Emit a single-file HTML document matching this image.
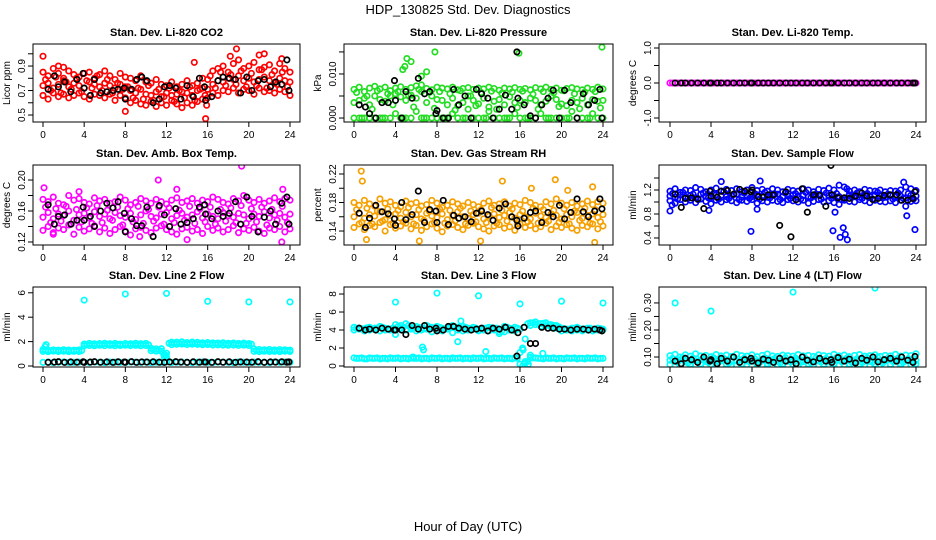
<!DOCTYPE html>
<html><head><meta charset="utf-8"><style>
html,body{margin:0;padding:0;background:#fff;}
svg{display:block;font-family:"Liberation Sans",sans-serif;}
</style></head><body>
<svg id="chart" width="936" height="540" viewBox="0 0 936 540">
<text x="468" y="14" font-size="13" text-anchor="middle">HDP_130825  Std. Dev. Diagnostics</text>
<text x="468" y="531" font-size="13" text-anchor="middle">Hour of Day (UTC)</text>
</svg>
<script>
// shared time categories (hours)
const T = [0,0.5,1,1.5,2,2.5,3,3.5,4,4.5,5,5.5,6,6.5,7,7.5,8,8.5,9,9.5,10,10.5,11,11.5,12,12.5,13,13.5,14,14.5,15,15.5,16,16.5,17,17.5,18,18.5,19,19.5,20,20.5,21,21.5,22,22.5,23,23.5,24];
const T2 = [0.25,0.75,1.25,1.75,2.25,2.75,3.25,3.75,4.25,4.75,5.25,5.75,6.25,6.75,7.25,7.75,8.25,8.75,9.25,9.75,10.25,10.75,11.25,11.75,12.25,12.75,13.25,13.75,14.25,14.75,15.25,15.75,16.25,16.75,17.25,17.75,18.25,18.75,19.25,19.75,20.25,20.75,21.25,21.75,22.25,22.75,23.25,23.75];
const BT = [0.5,1.1,1.5,2.1,2.7,3.3,3.9,4.0,4.6,5.0,5.6,6.2,6.8,7.3,7.9,8.0,8.6,9.1,9.6,10.1,10.7,11.3,11.8,12.3,12.9,13.4,14.0,14.6,15.2,15.7,15.8,16.4,17.0,17.5,18.1,18.7,19.2,19.8,20.3,20.9,21.5,22.1,22.6,23.2,23.7,23.9];

// Panel 1: CO2
const co2A = [.85,.82,.88,.84,.80,.86,.83,.81,.84,.85,.80,.83,.86,.82,.79,.84,.81,.80,.78,.82,.77,.76,.79,.75,.74,.77,.73,.75,.78,.74,.76,.80,.79,.86,.88,.90,.85,.92,.95,.88,.90,.93,.87,.89,.91,.86,.92,.88,.85];
const co2B = [.74,.76,.72,.75,.78,.73,.76,.74,.72,.77,.75,.73,.76,.74,.72,.75,.73,.70,.68,.71,.67,.66,.69,.65,.68,.66,.67,.69,.68,.66,.70,.72,.71,.75,.78,.77,.80,.79,.82,.78,.80,.77,.79,.81,.78,.76,.80,.78,.77];
const co2C = [.66,.63,.68,.65,.67,.64,.66,.68,.65,.63,.67,.66,.64,.67,.62,.66,.64,.60,.62,.59,.58,.61,.57,.60,.58,.62,.59,.56,.60,.58,.61,.63,.64,.68,.66,.70,.69,.72,.68,.71,.70,.67,.72,.69,.70,.68,.71,.69,.66];
const co2D = [.79,.70,.81,.68,.77,.71,.80,.69,.78,.72,.82,.70,.79,.68,.76,.71,.73,.64,.72,.63,.74,.62,.71,.65,.72,.61,.70,.64,.73,.62,.71,.66,.82,.72,.85,.74,.83,.75,.86,.73,.84,.74,.87,.72,.83,.75,.85,.73];
const co2OutT = [0,1.5,2,8,15.8,15.9,18.8,18.2,21.5,23.2,14.7,21];
const co2OutV = [.98,.90,.89,.53,.47,.58,1.04,.98,1.0,.96,.93,.99];
const co2Blk = [.71,.82,.73,.77,.69,.79,.84,.72,.66,.79,.68,.69,.70,.71,.72,.63,.71,.79,.81,.78,.60,.63,.73,.74,.72,.63,.74,.65,.80,.73,.62,.65,.78,.81,.80,.79,.68,.81,.70,.78,.79,.73,.77,.75,.95,.70];

// Panel 2: Pressure
const prA = [.0065,.007,.006,.0068,.0072,.0066,.007,.0062,.0068,.0071,.0065,.0069,.0073,.0075,.0067,.0064,.0070,.0068,.0066,.0070,.0064,.0067,.0069,.0065,.0068,.0066,.0070,.0067,.0063,.0068,.0066,.0069,.0065,.0067,.0064,.0069,.0066,.0070,.0065,.0068,.0063,.0067,.0069,.0066,.0064,.0068,.0065,.0070,.0066];
const prB = [.0035,.004,.0045,.003,.005,.0042,.0038,.005,.0055,.0048,.004,.0052,.0045,.006,.0035,.005,.0042,.004,.003,.0045,.0028,.0035,.005,.004,.0032,.0045,.0025,.0038,.0042,.003,.0048,.0035,.004,.0035,.0045,.004,.003,.0038,.005,.0042,.0032,.0028,.004,.0035,.0045,.003,.0042,.0038,.004];
const prC = [0,0,0,0,0,0,0,0,.001,0,0,0,.0015,0,0,0,0,0,0,.001,0,0,.002,0,0,0,.0015,0,0,0,0,.001,0,0,0,0,.001,0,0,0,0,0,.0015,0,0,0,.001,0,0];
const prD = [.0058,0,.0050,.0020,.0062,0,.0055,.0030,.0060,0,.0052,.0025,.0065,0,.0058,.0022,.0060,0,.0055,.0018,.0062,0,.0050,.0028,.0058,0,.0061,.0020,.0056,0,.0059,.0024,.0061,0,.0054,.0020,.0060,0,.0057,.0026,.0062,0,.0055,.0021,.0059,0,.0060,.0023];
const prOutT = [4.9,5.1,5.5,7.8,7.0,6.5,4.7,15.9,23.9];
const prOutV = [.0117,.0135,.0128,.0150,.0105,.0095,.011,.0147,.0161];
const prBlk = [.003,.0025,.001,0,.0035,.0035,.0085,.004,0,.006,.0045,.009,.0055,.006,.001,.0017,0,0,.0065,.003,.005,0,.0065,.0055,.0045,0,.002,.0052,.002,.0150,.0045,.003,.0005,0,.003,.0045,.0063,0,.0063,.0035,0,.0055,.003,.004,.0065,0];

// Panel 3: Temp
const tmpA = [0,0,0,0,0,0,0,0,0,0,0,0,0,0,0,0,0,0,0,0,0,0,0,0,0,0,0,0,0,0,0,0,0,0,0,0,0,0,0,0,0,0,0,0,0,0,0,0,0];
const tmpD = [0,0,0,0,0,0,0,0,0,0,0,0,0,0,0,0,0,0,0,0,0,0,0,0,0,0,0,0,0,0,0,0,0,0,0,0,0,0,0,0,0,0,0,0,0,0,0,0];
const tmpBlk = [0,0,0,0,0,0,0,0,0,0,0,0,0,0,0,0,0,0,0,0,0,0,0,0,0,0,0,0,0,0,0,0,0,0,0,0,0,0,0,0,0,0,0,0,0,0];

// Panel 4: Amb box temp
const ambA = [.175,.172,.178,.170,.168,.180,.174,.176,.171,.169,.177,.173,.175,.170,.172,.178,.174,.168,.171,.176,.173,.170,.175,.172,.169,.174,.177,.171,.173,.176,.170,.174,.172,.178,.175,.171,.169,.176,.173,.180,.174,.171,.175,.170,.173,.177,.172,.176,.174];
const ambB = [.152,.158,.150,.156,.154,.160,.148,.155,.157,.151,.159,.153,.156,.150,.158,.154,.152,.157,.149,.155,.160,.153,.151,.156,.158,.150,.154,.157,.152,.155,.159,.151,.156,.153,.150,.158,.154,.152,.157,.155,.150,.156,.153,.159,.151,.155,.157,.152,.156];
const ambC = [.135,.140,.132,.138,.136,.142,.130,.139,.134,.137,.141,.133,.138,.131,.136,.140,.134,.129,.137,.139,.135,.132,.138,.141,.136,.133,.130,.137,.139,.134,.136,.131,.140,.135,.138,.133,.136,.141,.132,.137,.135,.139,.134,.131,.138,.136,.140,.133,.137];
const ambD = [.165,.145,.163,.147,.166,.143,.162,.146,.164,.144,.167,.145,.161,.148,.165,.142,.163,.146,.166,.144,.162,.147,.165,.143,.164,.145,.161,.148,.166,.144,.163,.146,.165,.143,.162,.147,.164,.145,.167,.144,.163,.146,.165,.142,.162,.148,.166,.145];
const ambOutT = [0.1,1,3.5,11.2,13,19.3,23.3,23.2,14,9.4];
const ambOutV = [.19,.13,.185,.20,.188,.218,.188,.12,.123,.127];
const ambBlk = [.168,.143,.153,.155,.143,.148,.165,.148,.153,.140,.160,.170,.164,.172,.157,.133,.150,.141,.141,.165,.127,.167,.155,.140,.163,.143,.145,.150,.165,.168,.156,.150,.160,.153,.157,.172,.143,.178,.153,.133,.152,.160,.143,.170,.178,.143];

// Panel 5: Gas stream RH
const rhA = [.180,.176,.183,.178,.175,.185,.179,.181,.176,.174,.182,.178,.180,.175,.177,.183,.179,.173,.176,.181,.178,.175,.180,.177,.174,.179,.182,.176,.178,.181,.175,.179,.177,.183,.180,.176,.174,.181,.178,.185,.179,.176,.180,.175,.178,.182,.177,.181,.179];
const rhB = [.160,.165,.158,.163,.161,.167,.156,.162,.164,.158,.166,.160,.163,.157,.165,.161,.159,.164,.156,.162,.167,.160,.158,.163,.165,.157,.161,.164,.159,.162,.166,.158,.163,.160,.157,.165,.161,.159,.164,.162,.157,.163,.160,.166,.158,.162,.164,.159,.163];
const rhC = [.145,.150,.142,.148,.146,.152,.140,.149,.144,.147,.151,.143,.148,.141,.146,.150,.144,.139,.147,.149,.145,.142,.148,.151,.146,.143,.140,.147,.149,.144,.146,.141,.150,.145,.148,.143,.146,.151,.142,.147,.145,.149,.144,.141,.148,.146,.150,.143,.147];
const rhD = [.170,.152,.172,.150,.168,.154,.171,.151,.169,.153,.173,.150,.170,.155,.168,.152,.171,.151,.169,.154,.172,.150,.168,.153,.170,.152,.173,.151,.169,.154,.171,.150,.168,.153,.172,.151,.170,.154,.169,.152,.171,.150,.168,.155,.172,.151,.170,.153];
const rhOutT = [0.7,0.8,1.2,6.3,12.2,14.3,17.1,19.4,20.6,23.2,23];
const rhOutV = [.224,.21,.128,.126,.126,.21,.20,.212,.197,.124,.202];
const rhBlk = [.165,.145,.158,.176,.167,.164,.157,.148,.180,.156,.163,.196,.152,.170,.168,.152,.183,.149,.162,.158,.160,.153,.165,.168,.163,.155,.172,.178,.160,.155,.147,.158,.166,.168,.152,.166,.160,.176,.157,.166,.185,.167,.160,.168,.185,.171];

// Panel 6: Sample flow
const sfA = [1.18,1.22,1.16,1.20,1.19,1.24,1.21,1.17,1.20,1.23,1.18,1.21,1.19,1.22,1.17,1.20,1.24,1.19,1.21,1.18,1.22,1.20,1.17,1.21,1.19,1.18,1.22,1.20,1.17,1.21,1.19,1.23,1.20,1.28,1.25,1.18,1.20,1.17,1.21,1.19,1.18,1.20,1.17,1.19,1.18,1.20,1.25,1.22,1.19];
const sfB = [1.10,1.08,1.12,1.09,1.11,1.07,1.13,1.10,1.08,1.12,1.11,1.09,1.10,1.13,1.08,1.11,1.09,1.12,1.10,1.08,1.11,1.13,1.09,1.10,1.12,1.08,1.11,1.09,1.10,1.12,1.08,1.11,1.10,1.09,1.06,1.12,1.10,1.08,1.11,1.09,1.12,1.10,1.08,1.11,1.09,1.10,1.07,1.11,1.10];
const sfC = [1.02,0.98,1.04,1.00,1.03,0.99,1.05,1.01,0.97,1.03,1.00,1.04,1.02,0.99,1.03,1.01,1.04,0.98,1.02,1.00,1.03,1.01,0.99,1.04,1.02,1.00,1.03,0.98,1.01,1.04,1.00,1.02,0.99,0.96,1.03,1.01,1.00,1.04,1.02,0.99,1.03,1.01,1.00,1.02,0.99,1.03,0.93,1.01,1.02];
const sfD = [1.14,1.05,1.16,1.06,1.13,1.04,1.15,1.07,1.14,1.05,1.17,1.06,1.13,1.04,1.15,1.06,1.14,1.05,1.16,1.07,1.13,1.04,1.15,1.06,1.14,1.05,1.16,1.07,1.13,1.05,1.15,1.06,1.14,1.04,1.22,1.08,1.15,1.06,1.14,1.05,1.16,1.07,1.13,1.05,1.15,1.06,1.14,1.05];
const sfOutT = [0,0.2,3.8,7.9,8.5,15.9,16.1,16.6,16.9,17.1,17.3,23.1,23.9,5.0,8.8,22.8];
const sfOutV = [0.85,0.95,0.86,0.51,0.88,0.52,0.83,0.41,0.57,0.46,0.37,0.77,0.54,1.34,1.35,1.33];
const sfBlk = [1.13,0.91,1.06,1.07,1.05,0.89,1.18,1.10,1.08,1.18,1.19,1.13,1.21,1.18,1.17,1.20,1.09,1.08,1.12,1.12,0.61,1.17,0.42,1.04,1.22,0.83,1.12,1.11,0.93,1.61,1.12,1.07,1.07,1.06,1.10,1.15,1.10,1.04,1.06,1.11,1.12,1.12,1.03,1.03,1.06,1.17];

// Panel 7: Line 2 flow
const l2A = [1.35,1.30,1.32,1.30,1.33,1.31,1.30,1.32,1.80,1.85,1.82,1.84,1.86,1.83,1.85,1.80,1.84,1.82,1.86,1.83,1.85,1.45,1.40,1.42,1.05,1.95,1.95,1.98,1.92,1.96,1.94,1.90,1.92,1.89,1.88,1.90,1.86,1.88,1.85,1.87,1.84,1.40,1.35,1.33,1.35,1.32,1.34,1.33,1.30];
const l2B = [1.20,1.18,1.22,1.19,1.21,1.18,1.20,1.19,1.65,1.68,1.66,1.70,1.67,1.69,1.66,1.68,1.70,1.67,1.69,1.66,1.68,1.25,1.22,1.20,0.75,1.75,1.78,1.80,1.76,1.79,1.77,1.74,1.76,1.72,1.73,1.71,1.70,1.72,1.69,1.71,1.68,1.20,1.18,1.21,1.19,1.20,1.18,1.21,1.19];
const l2C = [.30,.32,.28,.31,.33,.29,.30,.32,.31,.29,.33,.30,.28,.32,.31,.30,.29,.33,.31,.30,.32,.28,.31,.30,.33,.29,.31,.32,.30,.28,.31,.33,.30,.29,.32,.31,.30,.28,.33,.31,.29,.32,.30,.31,.28,.33,.30,.32,.31];
const l2D = [1.27,1.25,1.28,1.26,1.27,1.25,1.28,1.26,1.75,1.77,1.74,1.76,1.78,1.75,1.77,1.74,1.76,1.78,1.75,1.77,1.74,1.33,1.30,0.90,1.86,1.87,1.85,1.86,1.84,1.85,1.83,1.84,1.82,1.83,1.81,1.80,1.82,1.79,1.80,1.78,1.79,1.27,1.26,1.28,1.25,1.27,1.26,1.28];
const l2OutT = [4,8,12,16,20,24,0.2,0.3,11.8,11.9];
const l2OutV = [5.4,5.9,5.95,5.3,5.25,5.25,1.6,1.75,0.7,0.9];
const l2Blk = [.30,.32,.35,.30,.33,.31,.34,.30,.32,.35,.31,.33,.30,.34,.32,.31,.35,.30,.33,.32,.34,.31,.30,.33,.35,.32,.30,.34,.31,.33,.32,.30,.35,.31,.34,.30,.33,.32,.31,.35,.30,.33,.32,.34,.31,.33];

// Panel 8: Line 3 flow
const l3A = [4.3,4.2,4.1,4.3,4.2,4.4,4.2,4.1,4.6,4.5,4.7,4.3,4.4,4.2,4.5,4.3,4.4,4.2,4.3,4.5,4.3,4.4,4.2,4.3,4.1,4.2,4.3,4.2,3.8,4.4,4.2,4.3,4.1,3.0,4.8,4.9,4.7,4.8,4.6,4.5,4.2,4.1,4.2,4.3,4.1,4.2,4.1,4.2,4.1];
const l3B = [4.0,4.1,3.9,4.0,4.1,3.9,4.0,4.0,3.5,4.2,4.0,4.1,3.9,4.0,4.1,3.8,4.0,3.9,4.1,3.7,4.0,3.9,4.0,4.1,3.9,4.0,3.9,4.0,3.6,3.8,4.0,3.9,1.5,0.5,4.5,4.6,4.4,4.5,4.3,4.2,3.9,4.0,3.9,4.0,3.9,4.0,3.9,4.0,4.0];
const l3C = [0.9,0.85,0.8,0.9,0.85,0.8,0.85,0.9,0.85,0.8,0.85,0.9,0.85,0.8,0.85,0.9,0.85,0.8,0.85,0.9,0.85,0.8,0.85,0.9,0.85,0.8,0.85,0.9,0.85,0.8,0.85,0.9,0.2,0.3,0.95,0.9,0.85,0.9,0.85,0.8,0.85,0.9,0.85,0.8,0.85,0.9,0.85,0.8,0.85];
const l3D = [4.2,4.15,4.25,4.1,4.2,4.3,4.15,4.2,4.4,4.3,4.5,4.2,4.3,4.15,4.35,4.2,4.3,4.15,4.25,4.35,4.2,4.3,4.15,4.2,4.1,4.2,4.25,4.2,3.9,4.3,4.15,4.2,2.0,4.7,4.8,4.7,4.75,4.6,4.5,4.35,4.15,4.1,4.2,4.15,4.1,4.2,4.1,4.15];
const l3E = [0.85,0.9,0.8,0.85,0.9,0.85,0.8,0.85,0.9,0.85,0.8,0.85,0.9,0.85,0.8,0.85,0.9,0.85,0.8,0.85,0.9,0.85,0.8,0.85,0.9,0.85,0.8,0.85,0.9,0.85,0.8,0.85,0.0,0.5,0.9,0.85,0.8,0.85,0.9,0.85,0.8,0.85,0.9,0.85,0.8,0.85,0.9,0.85];
const l3OutT = [4,8,12,16,20,24,6.6,6.7,10,10.3,12.7,16.3,16.8,17,18.2,5.7];
const l3OutV = [7.1,8.1,7.8,6.9,7.2,7.0,2.1,1.8,2.7,5.0,1.6,1.8,0.2,1.2,1.4,1.0];
const l3Blk = [4.2,4.0,4.1,4.0,4.2,4.1,4.0,4.0,4.0,3.5,4.5,4.1,4.5,4.1,4.2,3.9,4.0,4.4,4.4,4.2,4.1,4.0,4.1,4.2,3.9,4.2,4.1,4.3,4.0,1.1,3.7,4.3,2.5,2.5,4.3,4.2,4.2,4.1,4.1,4.0,4.1,4.1,4.0,4.1,4.0,3.9];

// Panel 9: Line 4 flow
const l4A = [.105,.110,.100,.108,.103,.112,.104,.106,.101,.109,.104,.107,.102,.110,.105,.103,.108,.101,.106,.111,.104,.102,.107,.105,.103,.109,.104,.106,.102,.108,.105,.103,.110,.104,.107,.101,.106,.109,.103,.105,.108,.102,.106,.104,.110,.103,.107,.105,.112];
const l4B = [.088,.085,.090,.084,.087,.086,.089,.083,.088,.085,.087,.090,.084,.086,.089,.085,.087,.083,.088,.086,.090,.084,.087,.085,.089,.086,.083,.088,.085,.087,.090,.084,.086,.089,.085,.087,.083,.088,.086,.084,.089,.085,.087,.090,.084,.086,.088,.085,.087];
const l4C = [.072,.070,.074,.069,.073,.071,.075,.070,.072,.074,.069,.073,.071,.070,.074,.072,.069,.073,.071,.075,.070,.072,.074,.069,.073,.071,.070,.074,.072,.069,.073,.071,.075,.070,.072,.074,.069,.073,.071,.070,.074,.072,.069,.073,.071,.075,.070,.072,.074];
const l4D = [.095,.080,.098,.078,.096,.082,.094,.079,.097,.081,.095,.078,.099,.080,.096,.083,.094,.079,.097,.081,.095,.078,.098,.082,.096,.080,.094,.079,.097,.081,.095,.078,.098,.082,.096,.080,.094,.079,.097,.081,.099,.078,.095,.083,.096,.080,.094,.079];
const l4OutT = [0.5,4,12,20];
const l4OutV = [0.30,0.27,0.34,0.355];
const l4Blk = [.085,.075,.095,.090,.080,.100,.085,.090,.075,.095,.085,.100,.080,.090,.095,.085,.078,.092,.088,.080,.095,.085,.090,.075,.100,.088,.082,.095,.085,.090,.080,.098,.085,.092,.078,.095,.088,.100,.082,.090,.095,.085,.100,.088,.080,.102];

const xTicks = [0,4,8,12,16,20,24];

const NS = 'http://www.w3.org/2000/svg';
const svg = document.getElementById('chart');
function mk(tag, attrs, parent){
  const e = document.createElementNS(NS, tag);
  for (const k in attrs) e.setAttribute(k, attrs[k]);
  (parent||svg).appendChild(e);
  return e;
}

const cols = [{l:33,r:300,x0:43,x1:290,yl:10},{l:344,r:613,x0:354,x1:603,yl:321},{l:659,r:926,x0:670,x1:916,yl:636}];
const rows = [{t:44,b:122},{t:165,b:245},{t:287,b:367}];

const panels = [
 {c:0,r:0,name:'co2',title:'Stan. Dev. Li-820 CO2',ylab:'Licor ppm',ymin:0.443,ymax:1.08,ticks:[.5,.6,.7,.8,.9,1.0],labs:[[.5,'0.5'],[.7,'0.7'],[.9,'0.9']],col:'#ff0000',layers:[[T,co2A],[T,co2B],[T,co2C],[T2,co2D]],outT:co2OutT,outV:co2OutV,blk:co2Blk},
 {c:1,r:0,name:'pressure',title:'Stan. Dev. Li-820 Pressure',ylab:'kPa',ymin:-0.0009,ymax:0.0168,ticks:[0,.005,.01,.015],labs:[[0,'0.000'],[.01,'0.010']],col:'#22dd22',layers:[[T,prA],[T,prB],[T,prC],[T2,prD]],outT:prOutT,outV:prOutV,blk:prBlk},
 {c:2,r:0,name:'temp',title:'Stan. Dev. Li-820 Temp.',ylab:'degrees C',ymin:-1.114,ymax:1.114,ticks:[-1,-.5,0,.5,1],labs:[[-1,'-1.0'],[0,'0.0'],[1,'1.0']],col:'#ff00ff',layers:[[T,tmpA],[T2,tmpD]],outT:[],outV:[],blk:tmpBlk},
 {c:0,r:1,name:'amb-box-temp',title:'Stan. Dev. Amb. Box Temp.',ylab:'degrees C',ymin:.1161,ymax:.2194,ticks:[.12,.14,.16,.18,.20],labs:[[.12,'0.12'],[.16,'0.16'],[.20,'0.20']],col:'#ff00ff',layers:[[T,ambA],[T,ambB],[T,ambC],[T2,ambD]],outT:ambOutT,outV:ambOutV,blk:ambBlk},
 {c:1,r:1,name:'gas-stream-rh',title:'Stan. Dev. Gas Stream RH',ylab:'percent',ymin:.1204,ymax:.2326,ticks:[.14,.16,.18,.20,.22],labs:[[.14,'0.14'],[.18,'0.18'],[.22,'0.22']],col:'#f5a000',layers:[[T,rhA],[T,rhB],[T,rhC],[T2,rhD]],outT:rhOutT,outV:rhOutV,blk:rhBlk},
 {c:2,r:1,name:'sample-flow',title:'Stan. Dev. Sample Flow',ylab:'ml/min',ymin:.283,ymax:1.617,ticks:[.4,.6,.8,1.0,1.2,1.4],labs:[[.4,'0.4'],[.8,'0.8'],[1.2,'1.2']],col:'#0000ff',layers:[[T,sfA],[T,sfB],[T,sfC],[T2,sfD]],outT:sfOutT,outV:sfOutV,blk:sfBlk},
 {c:0,r:2,name:'line2-flow',title:'Stan. Dev. Line 2 Flow',ylab:'ml/min',ymin:-.082,ymax:6.475,ticks:[0,2,4,6],labs:[[0,'0'],[2,'2'],[4,'4'],[6,'6']],col:'#00ffff',layers:[[T,l2A],[T,l2B],[T,l2C],[T2,l2D]],outT:l2OutT,outV:l2OutV,blk:l2Blk},
 {c:1,r:2,name:'line3-flow',title:'Stan. Dev. Line 3 Flow',ylab:'ml/min',ymin:-.11,ymax:8.78,ticks:[0,2,4,6,8],labs:[[0,'0'],[2,'2'],[4,'4'],[6,'6'],[8,'8']],col:'#00ffff',layers:[[T,l3A],[T,l3B],[T,l3C],[T2,l3D],[T2,l3E]],outT:l3OutT,outV:l3OutV,blk:l3Blk},
 {c:2,r:2,name:'line4-flow',title:'Stan. Dev. Line 4 (LT) Flow',ylab:'ml/min',ymin:.063,ymax:.359,ticks:[.10,.15,.20,.25,.30],labs:[[.10,'0.10'],[.20,'0.20'],[.30,'0.30']],col:'#00ffff',layers:[[T,l4A],[T,l4B],[T,l4C],[T2,l4D]],outT:l4OutT,outV:l4OutV,blk:l4Blk}
];

panels.forEach(p => {
  const C = cols[p.c], R = rows[p.r];
  const xs = v => C.x0 + (v/24)*(C.x1 - C.x0);
  const ys = v => R.b - (v - p.ymin)/(p.ymax - p.ymin)*(R.b - R.t);
  const g = mk('g', {});
  
  
  const tt = mk('text', {x:(C.l+C.r)/2, y:R.t-8, 'font-size':11, 'font-weight':'bold', 'text-anchor':'middle'}, g);
  tt.textContent = p.title;
  
  
  const yl = mk('text', {x:C.yl, y:(R.t+R.b)/2, 'font-size':10, 'text-anchor':'middle', transform:'rotate(-90 '+C.yl+' '+((R.t+R.b)/2)+')'}, g);
  yl.textContent = p.ylab;
  
  
  const cp = mk('clipPath', {id:'clip-'+p.name}, g);
  mk('rect', {x:C.l, y:R.t, width:C.r-C.l, height:R.b-R.t}, cp);
  const pts = mk('g', {'clip-path':'url(#clip-'+p.name+')', fill:'none', 'stroke-width':1.7}, g);
  
  
  p.layers.forEach(([tt2, arr]) => {
    const n = Math.min(arr.length, tt2.length);
    for (let i = 0; i < n; i++) {
      const c = mk('circle', {cx:xs(tt2[i]), cy:ys(arr[i]), r:2.7, stroke:p.col}, pts);
      
      
    }
  });
  for (let i = 0; i < Math.min(p.outT.length, p.outV.length); i++) {
    const c = mk('circle', {cx:xs(p.outT[i]), cy:ys(p.outV[i]), r:2.7, stroke:p.col}, pts);
    
    
  }
  for (let i = 0; i < Math.min(p.blk.length, BT.length); i++) {
    const c = mk('circle', {cx:xs(BT[i]), cy:ys(p.blk[i]), r:2.7, stroke:'#000'}, pts);
    
    
  }
  const box = mk('rect', {x:C.l, y:R.t, width:C.r-C.l, height:R.b-R.t, fill:'none', stroke:'#000', 'stroke-width':1}, g);
  
  
  xTicks.forEach(t => {
    mk('line', {x1:xs(t), x2:xs(t), y1:R.b, y2:R.b+5, stroke:'#000'}, g);
    const lt = mk('text', {x:xs(t), y:R.b+16, 'font-size':10, 'text-anchor':'middle'}, g);
    lt.textContent = t;
    
    
  });
  p.ticks.forEach(t => mk('line', {x1:C.l-5, x2:C.l, y1:ys(t), y2:ys(t), stroke:'#000'}, g));
  p.labs.forEach(([v, s]) => {
    const xx = C.l - 8;
    const lt = mk('text', {x:xx, y:ys(v), 'font-size':10, 'text-anchor':'middle', transform:'rotate(-90 '+xx+' '+ys(v)+')'}, g);
    lt.textContent = s;
    
    
  });
});
</script>
</body></html>
